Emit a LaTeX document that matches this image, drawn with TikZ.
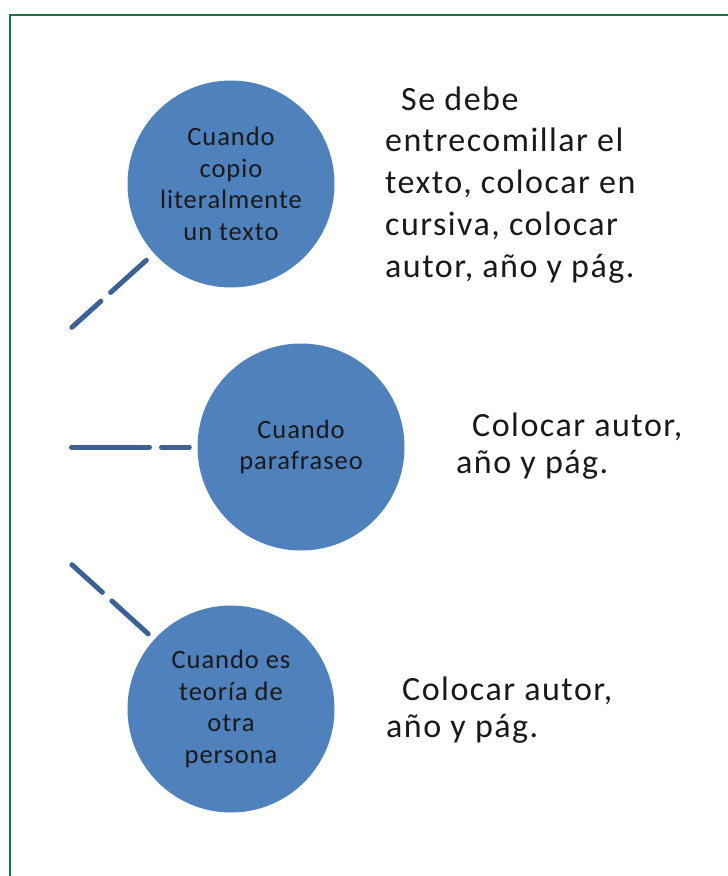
\documentclass[tikz,border=0pt]{standalone}
\usepackage{fontspec}
\setmainfont{Carlito}
\definecolor{frameline}{HTML}{1E7145}
\definecolor{bubblefill}{HTML}{4F81BD}
\definecolor{linkline}{HTML}{3A6296}

\begin{document}
\begin{tikzpicture}[x=1pt, y=-1pt,
    bubble/.style={circle, fill=bubblefill, minimum size=207pt, inner sep=0pt, align=center,
      font=\fontsize{26.5}{31.7}\selectfont\addfontfeature{LetterSpace=3.6}, text=black!90},
    link/.style={draw=linkline, line width=5pt, line cap=round},
    note/.style={anchor=base west, align=left, inner sep=0pt, text=black!90,
      font=\fontsize{34}{#1}\selectfont\addfontfeature{LetterSpace=4.4}},
    note/.default=36.7,
  ]

  \useasboundingbox (0,0) rectangle (728,876);
  \clip (0,0) rectangle (728,876);

  % ---- page frame, cut off at right and bottom
  \draw[frameline, line width=2.2pt] (10,15) rectangle (760,900);

  % ---- the three cases
  \foreach \i/\x/\y/\txt in {%
      1/231/184/{Cuando\\copio\\literalmente\\un texto},
      2/301/447/{Cuando\\parafraseo},
      3/231/709/{Cuando es\\teoría de\\otra\\persona}} {
    \node[bubble] (c\i) at (\x,\y) {\txt};
  }

  % ---- what to do in each case (anchored on the last line)
  \node[note=41.7] (t1) at (385,277) {\hspace*{16pt}Se debe\\entrecomillar el\\texto, colocar en\\cursiva, colocar\\autor, año y pág.};
  \node[note] (t2) at (456,473.5) {\hspace*{16pt}Colocar autor,\\año y pág.};
  \node[note] (t3) at (386,737) {\hspace*{16pt}Colocar autor,\\año y pág.};

  % ---- broken links from the left margin
  \coordinate (e1) at (71.9,327.3);
  \coordinate (e2) at (71.5,447);
  \coordinate (e3) at (71.9,564.7);
  \draw[link, dash pattern=on 39pt off 13pt on 200pt off 1pt, shorten >=10.2pt] (e1) -- (c1);
  \draw[link, dash pattern=on 78pt off 12pt on 200pt off 1pt, shorten >=8pt] (e2) -- (c2);
  \draw[link, dash pattern=on 41.2pt off 12.8pt on 200pt off 1pt, shorten >=8.1pt] (e3) -- (c3);

\end{tikzpicture}
\end{document}
